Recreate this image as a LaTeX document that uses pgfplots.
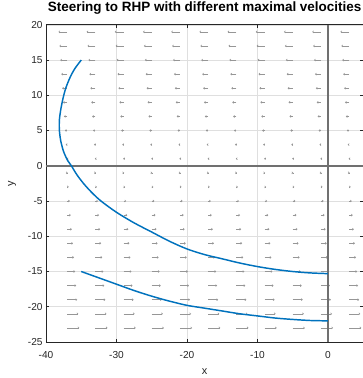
\documentclass[border=0pt]{standalone}
\usepackage{fontspec}
\setmainfont{Liberation Sans}
\usepackage{pgfplots}
\pgfplotsset{compat=1.18}
\usepackage{pgfplotstable}
\usetikzlibrary{arrows.meta}
\definecolor{mblue}{RGB}{0,114,189}
\definecolor{axgray}{RGB}{38,38,38}
\definecolor{quivgray}{RGB}{150,150,150}
\definecolor{gridgray}{RGB}{223,223,223}
\definecolor{zerogray}{RGB}{112,112,112}
\pgfplotstableread{
y u
19 -1.24
17 -1.11
15 -0.98
13 -0.85
11 -0.72
9 -0.59
7 -0.46
5 -0.33
3 -0.20
1 -0.07
-1 0.08
-3 0.23
-5 0.38
-7 0.53
-9 0.68
-11 0.83
-13 0.98
-15 1.13
-17 1.28
-19 1.43
-21 1.58
-23 1.73
}\field
\pgfplotstableread{
x y
-35.0 15.0
-35.9 13.8
-36.6 12.5
-37.2 11.0
-37.6 9.5
-37.9 8.0
-38.1 6.5
-38.1 5.0
-37.9 3.5
-37.5 2.0
-36.9 0.7
-36.4 0.0
-35.6 -1.3
-34.6 -2.6
-33.5 -3.8
-32.2 -5.0
-30.0 -6.6
-27.5 -8.1
-25.0 -9.4
-22.5 -10.7
-20.0 -11.8
-17.5 -12.6
-15.0 -13.2
-12.5 -13.8
-10.0 -14.3
-7.5 -14.7
-5.0 -15.0
-2.5 -15.2
0.0 -15.3
}\curveA
\pgfplotstableread{
x y
-35.0 -15.0
-32.5 -15.9
-30.0 -16.8
-27.5 -17.7
-25.0 -18.5
-22.5 -19.2
-20.0 -19.8
-17.5 -20.2
-15.0 -20.6
-12.5 -21.0
-10.0 -21.3
-7.5 -21.6
-5.0 -21.8
-2.5 -21.95
0.0 -22.0
}\curveB
\begin{document}
\begin{tikzpicture}
\useasboundingbox (-34.5pt,-27pt) rectangle (237pt,256.5pt);
\begin{axis}[
  at={(0,0)}, anchor=south west,
  scale only axis, width=237.9pt, height=237.9pt,
  xmin=-40, xmax=5, ymin=-25, ymax=20,
  xtick={-40,-30,-20,-10,0},
  ytick={-25,-20,-15,-10,-5,0,5,10,15,20},
  grid=major,
  major grid style={draw=gridgray, line width=0.4pt},
  axis line style={draw=axgray, line width=0.6pt},
  tick align=inside,
  major tick length=2.6pt,
  tick style={draw=axgray, line width=0.5pt},
  /pgf/number format/assume math mode=true,
  ticklabel style={font=\fontsize{7.6}{9}\selectfont, text=axgray},
  yticklabel style={anchor=east, inner sep=0pt, xshift=-2.4pt},
  xticklabel style={anchor=north, inner sep=0pt, yshift=-6.8pt},
  xlabel={x}, ylabel={y},
  label style={font=\fontsize{8.2}{10}\selectfont, text=axgray},
  xlabel style={at={(axis description cs:0.5,-0.0946)}, anchor=center},
  ylabel style={at={(axis description cs:-0.1072,0.5)}, anchor=center, rotate=0},
  title={Steering to RHP with different maximal velocities},
  title style={at={(axis description cs:0.5,1.018)}, anchor=base,
    font=\bfseries\fontsize{10.1}{12}\selectfont, inner sep=0pt},
  clip=true,
]
\pgfplotsinvokeforeach{-37,-33,-29,-25,-21,-17,-13,-9,-5,-1,3}{
  \addplot[draw=quivgray, line width=0.45pt,
    -{Straight Barb[length=0.8pt,width=1.5pt]},
    quiver={u=\thisrow{u}, v=0}] table[x expr=#1, y=y] {\field};
}
\addplot[draw=zerogray, line width=1.2pt] coordinates {(0,-25) (0,20)};
\addplot[draw=zerogray, line width=1.2pt] coordinates {(-40,0) (5,0)};
\addplot[draw=mblue, line width=1.1pt, smooth] table[x=x,y=y] {\curveA};
\addplot[draw=mblue, line width=1.1pt, smooth] table[x=x,y=y] {\curveB};
\end{axis}
\end{tikzpicture}
\end{document}
